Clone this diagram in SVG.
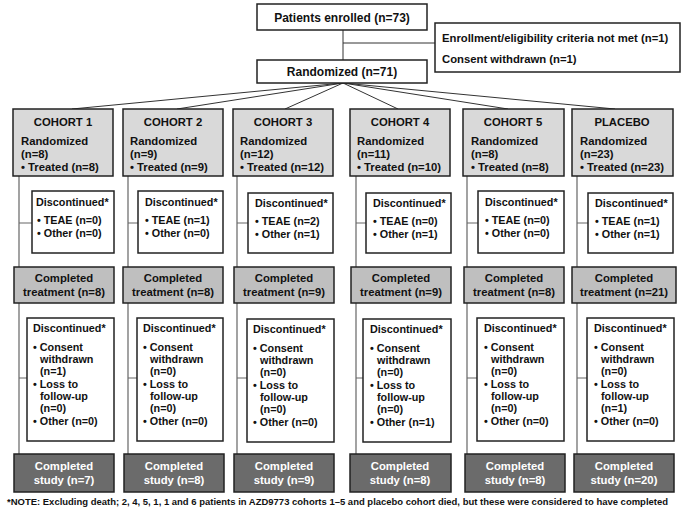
<svg xmlns="http://www.w3.org/2000/svg" width="685" height="513" viewBox="0 0 685 513">
<style>
text{font-family:"Liberation Sans",Arial,sans-serif;font-weight:bold;fill:#111;}
.b{fill:#fff;stroke:#222;stroke-width:1.5;}
.c{fill:#d9d9d9;stroke:#222;stroke-width:1.5;}
.t{fill:#bfbfbf;stroke:#222;stroke-width:1.5;}
.s{fill:#6b6b6b;stroke:#222;stroke-width:1.5;}
.f12{font-size:12px;}
.f11{font-size:11.3px;}
.f10{font-size:10.8px;}
.m{text-anchor:middle;}
.w{fill:#fff;}
.ln{stroke:#333;stroke-width:1;fill:none;}
.vl{stroke:#666;stroke-width:1.2;fill:none;}
</style>
<rect width="685" height="513" fill="#fff"/>
<g id="connectors">
<path class="ln" d="M343 30V60M343 43H435"/>
<path class="ln" d="M343 83L72 109M343 83L177 109M343 83L285 109M343 83L398 109M343 83L508 109M343 83L615 109"/>
<path class="vl" d="M19 176V267M19 303V454M19 223H32M19 378H27"/>
<path class="vl" d="M128 176V267M128 303V454M128 223H138M128 378H137"/>
<path class="vl" d="M237 176V267M237 303V454M237 223H248M237 378H247"/>
<path class="vl" d="M356 176V267M356 303V454M356 223H366M356 378H363"/>
<path class="vl" d="M467 176V267M467 303V454M467 223H478M467 378H477"/>
<path class="vl" d="M577 176V267M577 303V454M577 223H588M577 378H587"/>
</g>
<g id="enrolled"><rect class="b" x="257" y="4" width="170" height="26"/><text class="f12 m" x="342" y="21.5">Patients enrolled (n=73)</text></g>
<g id="excluded"><rect class="b" x="435" y="23" width="245" height="49"/><text class="f11" x="442" y="42">Enrollment/eligibility criteria not met (n=1)</text><text class="f11" x="442" y="63">Consent withdrawn (n=1)</text></g>
<g id="randomized"><rect class="b" x="257" y="60" width="170" height="23"/><text class="f12 m" x="342" y="76">Randomized (n=71)</text></g>

<g id="cohort1"><rect class="c" x="13" y="109" width="100" height="67"/><text class="f11 m" x="63" y="126">COHORT 1</text><text class="f11" x="21" y="145">Randomized</text><text class="f11" x="21" y="158">(n=8)</text><text class="f11" x="21" y="171">• Treated (n=8)</text></g>
<g id="cohort2"><rect class="c" x="123" y="109" width="100" height="67"/><text class="f11 m" x="173" y="126">COHORT 2</text><text class="f11" x="130" y="145">Randomized</text><text class="f11" x="130" y="158">(n=9)</text><text class="f11" x="130" y="171">• Treated (n=9)</text></g>
<g id="cohort3"><rect class="c" x="233" y="109" width="100" height="67"/><text class="f11 m" x="283" y="126">COHORT  3</text><text class="f11" x="240" y="145">Randomized</text><text class="f11" x="240" y="158">(n=12)</text><text class="f11" x="240" y="171">• Treated (n=12)</text></g>
<g id="cohort4"><rect class="c" x="350" y="109" width="100" height="67"/><text class="f11 m" x="400" y="126">COHORT 4</text><text class="f11" x="357" y="145">Randomized</text><text class="f11" x="357" y="158">(n=11)</text><text class="f11" x="357" y="171">• Treated (n=10)</text></g>
<g id="cohort5"><rect class="c" x="463" y="109" width="101" height="67"/><text class="f11 m" x="513" y="126">COHORT 5</text><text class="f11" x="471" y="145">Randomized</text><text class="f11" x="471" y="158">(n=8)</text><text class="f11" x="471" y="171">• Treated (n=8)</text></g>
<g id="placebo"><rect class="c" x="572" y="109" width="101" height="67"/><text class="f11 m" x="622" y="126">PLACEBO</text><text class="f11" x="580" y="145">Randomized</text><text class="f11" x="580" y="158">(n=23)</text><text class="f11" x="580" y="171">• Treated (n=23)</text></g>

<g id="disc1-1"><rect class="b" x="32" y="191" width="82" height="62"/><text class="f10" x="36" y="206">Discontinued*</text><text class="f10" x="37" y="224">• TEAE (n=0)</text><text class="f10" x="37" y="237">• Other (n=0)</text></g>
<g id="disc1-2"><rect class="b" x="138" y="191" width="85" height="62"/><text class="f10" x="145" y="206">Discontinued*</text><text class="f10" x="145" y="224">• TEAE (n=1)</text><text class="f10" x="145" y="237">• Other (n=0)</text></g>
<g id="disc1-3"><rect class="b" x="248" y="193" width="85" height="60"/><text class="f10" x="255" y="207">Discontinued*</text><text class="f10" x="255" y="225">• TEAE (n=2)</text><text class="f10" x="255" y="238">• Other (n=1)</text></g>
<g id="disc1-4"><rect class="b" x="366" y="193" width="85" height="60"/><text class="f10" x="373" y="207">Discontinued*</text><text class="f10" x="373" y="225">• TEAE (n=0)</text><text class="f10" x="373" y="238">• Other (n=1)</text></g>
<g id="disc1-5"><rect class="b" x="478" y="191" width="86" height="62"/><text class="f10" x="485" y="206">Discontinued*</text><text class="f10" x="485" y="224">• TEAE (n=0)</text><text class="f10" x="485" y="237">• Other (n=0)</text></g>
<g id="disc1-p"><rect class="b" x="588" y="193" width="85" height="60"/><text class="f10" x="595" y="207">Discontinued*</text><text class="f10" x="595" y="225">• TEAE (n=1)</text><text class="f10" x="595" y="238">• Other (n=1)</text></g>

<g id="treat1"><rect class="t" x="14" y="267" width="100" height="36"/><text class="f11 m" x="64" y="282">Completed</text><text class="f11 m" x="64" y="296">treatment (n=8)</text></g>
<g id="treat2"><rect class="t" x="123" y="267" width="100" height="36"/><text class="f11 m" x="173" y="282">Completed</text><text class="f11 m" x="173" y="296">treatment (n=8)</text></g>
<g id="treat3"><rect class="t" x="234" y="267" width="100" height="36"/><text class="f11 m" x="284" y="282">Completed</text><text class="f11 m" x="284" y="296">treatment (n=9)</text></g>
<g id="treat4"><rect class="t" x="351" y="267" width="100" height="36"/><text class="f11 m" x="401" y="282">Completed</text><text class="f11 m" x="401" y="296">treatment (n=9)</text></g>
<g id="treat5"><rect class="t" x="464" y="267" width="100" height="36"/><text class="f11 m" x="514" y="282">Completed</text><text class="f11 m" x="514" y="296">treatment (n=8)</text></g>
<g id="treatp"><rect class="t" x="572" y="267" width="104" height="36"/><text class="f11 m" x="624" y="282">Completed</text><text class="f11 m" x="624" y="296">treatment (n=21)</text></g>

<g id="disc2-1"><rect class="b" x="27" y="318" width="87" height="123"/><text class="f10" x="33" y="332">Discontinued*</text><text class="f10" x="33" y="351">• Consent</text><text class="f10" x="40" y="363">withdrawn</text><text class="f10" x="40" y="375">(n=1)</text><text class="f10" x="33" y="388">• Loss to</text><text class="f10" x="40" y="400">follow-up</text><text class="f10" x="40" y="412">(n=0)</text><text class="f10" x="33" y="425">• Other (n=0)</text></g>
<g id="disc2-2"><rect class="b" x="137" y="318" width="86" height="123"/><text class="f10" x="143" y="332">Discontinued*</text><text class="f10" x="143" y="351">• Consent</text><text class="f10" x="150" y="363">withdrawn</text><text class="f10" x="150" y="375">(n=0)</text><text class="f10" x="143" y="388">• Loss to</text><text class="f10" x="150" y="400">follow-up</text><text class="f10" x="150" y="412">(n=0)</text><text class="f10" x="143" y="425">• Other (n=0)</text></g>
<g id="disc2-3"><rect class="b" x="247" y="319" width="87" height="123"/><text class="f10" x="253" y="333">Discontinued*</text><text class="f10" x="253" y="352">• Consent</text><text class="f10" x="260" y="364">withdrawn</text><text class="f10" x="260" y="376">(n=0)</text><text class="f10" x="253" y="389">• Loss to</text><text class="f10" x="260" y="401">follow-up</text><text class="f10" x="260" y="413">(n=0)</text><text class="f10" x="253" y="426">• Other (n=0)</text></g>
<g id="disc2-4"><rect class="b" x="363" y="319" width="88" height="123"/><text class="f10" x="370" y="333">Discontinued*</text><text class="f10" x="370" y="352">• Consent</text><text class="f10" x="377" y="364">withdrawn</text><text class="f10" x="377" y="376">(n=0)</text><text class="f10" x="370" y="389">• Loss to</text><text class="f10" x="377" y="401">follow-up</text><text class="f10" x="377" y="413">(n=0)</text><text class="f10" x="370" y="426">• Other (n=1)</text></g>
<g id="disc2-5"><rect class="b" x="477" y="318" width="87" height="123"/><text class="f10" x="484" y="332">Discontinued*</text><text class="f10" x="484" y="351">• Consent</text><text class="f10" x="491" y="363">withdrawn</text><text class="f10" x="491" y="375">(n=0)</text><text class="f10" x="484" y="388">• Loss to</text><text class="f10" x="491" y="400">follow-up</text><text class="f10" x="491" y="412">(n=0)</text><text class="f10" x="484" y="425">• Other (n=0)</text></g>
<g id="disc2-p"><rect class="b" x="587" y="318" width="87" height="123"/><text class="f10" x="594" y="332">Discontinued*</text><text class="f10" x="594" y="351">• Consent</text><text class="f10" x="601" y="363">withdrawn</text><text class="f10" x="601" y="375">(n=0)</text><text class="f10" x="594" y="388">• Loss to</text><text class="f10" x="601" y="400">follow-up</text><text class="f10" x="601" y="412">(n=1)</text><text class="f10" x="594" y="425">• Other (n=0)</text></g>

<g id="study1"><rect class="s" x="14" y="454" width="100" height="38"/><text class="f11 m w" x="64" y="470">Completed</text><text class="f11 m w" x="64" y="484">study (n=7)</text></g>
<g id="study2"><rect class="s" x="124" y="454" width="100" height="38"/><text class="f11 m w" x="174" y="470">Completed</text><text class="f11 m w" x="174" y="484">study (n=8)</text></g>
<g id="study3"><rect class="s" x="234" y="454" width="100" height="38"/><text class="f11 m w" x="284" y="470">Completed</text><text class="f11 m w" x="284" y="484">study (n=9)</text></g>
<g id="study4"><rect class="s" x="350" y="454" width="101" height="38"/><text class="f11 m w" x="400" y="470">Completed</text><text class="f11 m w" x="400" y="484">study (n=8)</text></g>
<g id="study5"><rect class="s" x="465" y="454" width="100" height="38"/><text class="f11 m w" x="515" y="470">Completed</text><text class="f11 m w" x="515" y="484">study (n=8)</text></g>
<g id="studyp"><rect class="s" x="574" y="454" width="100" height="38"/><text class="f11 m w" x="624" y="470">Completed</text><text class="f11 m w" x="624" y="484">study (n=20)</text></g>

<text x="7" y="505" style="font-size:9.8px" textLength="661" lengthAdjust="spacingAndGlyphs">*NOTE: Excluding death; 2, 4, 5, 1, 1 and 6 patients in AZD9773 cohorts 1–5 and placebo cohort died, but these were considered to have completed</text>
</svg>
